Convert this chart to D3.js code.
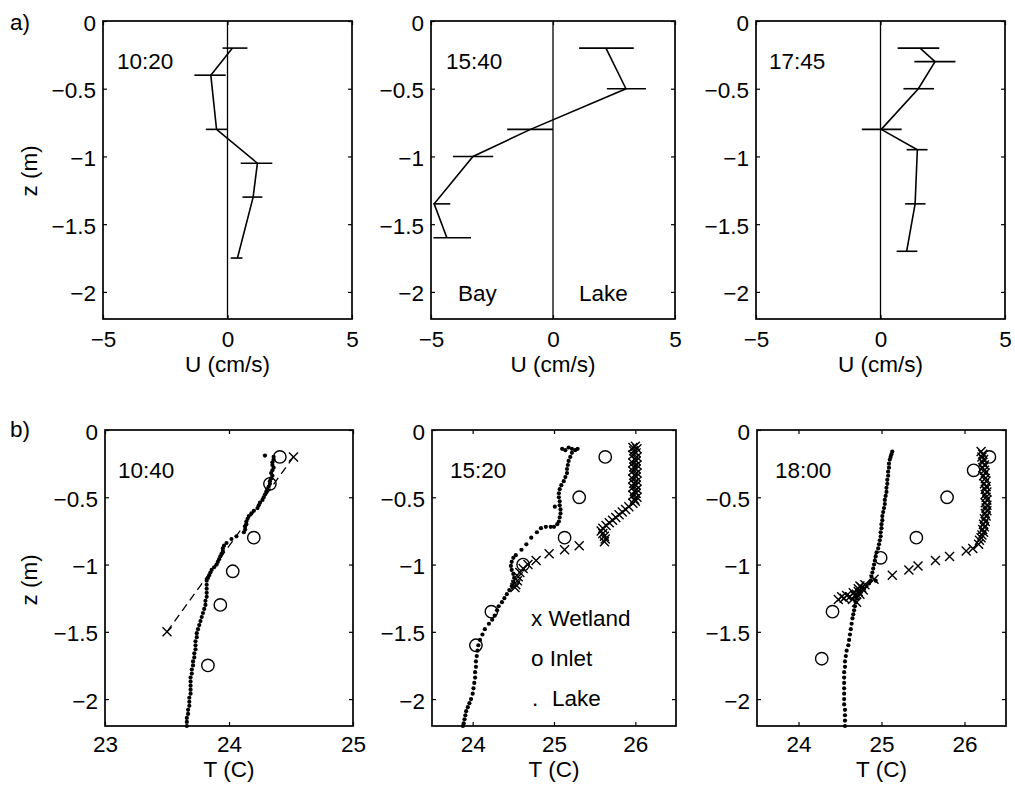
<!DOCTYPE html>
<html lang="en">
<head>
<meta charset="UTF-8">
<title>Velocity and temperature profiles</title>
<style>
  body { margin: 0; background: #fff; }
  svg text { font-family: "Liberation Sans", Arial, Helvetica, sans-serif; font-size: 22.5px; fill: #000; }
</style>
</head>
<body>
<svg id="svg" width="1015" height="788"></svg>
<script src="https://d3js.org/d3.v7.min.js"></script>
<script>
// ---- tick values and labels ----
const uTicks = [-5, 0, 5]
const zTicks = [0, -0.5, -1, -1.5, -2]
const tTicksA = [23, 24, 25]
const tTicksB = [24, 25, 26]
const uTimes = ["10:20", "15:40", "17:45"]
const tTimes = ["10:40", "15:20", "18:00"]

// ---- a) velocity profiles: depth (m), U (cm/s), error bar low / high ----
const z1020 = [-0.2, -0.4, -0.8, -1.05, -1.3, -1.75]
const u1020 = [0.2, -0.67, -0.44, 1.2, 1.03, 0.4]
const lo1020 = [-0.2, -1.33, -0.87, 0.53, 0.6, 0.13]
const hi1020 = [0.8, -0.07, 0.0, 1.8, 1.4, 0.6]

const z1540 = [-0.2, -0.5, -0.8, -1.0, -1.35, -1.6]
const u1540 = [2.17, 2.99, -0.92, -3.28, -4.87, -4.35]
const lo1540 = [1.07, 2.21, -1.88, -4.1, -4.9, -4.9]
const hi1540 = [3.31, 3.81, 0.0, -2.45, -4.21, -3.36]

const z1745 = [-0.2, -0.3, -0.5, -0.8, -0.95, -1.35, -1.7]
const u1745 = [1.59, 2.19, 1.52, 0.03, 1.48, 1.39, 1.05]
const lo1745 = [0.69, 1.36, 0.92, -0.75, 1.05, 0.99, 0.65]
const hi1745 = [2.36, 3.01, 2.15, 0.85, 1.89, 1.81, 1.48]

// ---- b) temperature profiles: [T (C), z (m)] ----
const inlet1040 = [[24.41,-0.2],[24.33,-0.4],[24.2,-0.8],[24.03,-1.05],[23.93,-1.3],[23.83,-1.75]]
const inlet1520 = [[25.63,-0.2],[25.31,-0.5],[25.13,-0.8],[24.62,-1.0],[24.23,-1.35],[24.04,-1.6]]
const inlet1800 = [[26.3,-0.2],[26.11,-0.3],[25.79,-0.5],[25.42,-0.8],[24.99,-0.95],[24.41,-1.35],[24.28,-1.7]]

const wetland1040 = [[24.52,-0.2],[23.5,-1.5]]
const wetland1520 = [
  [26.00,-0.12],[25.97,-0.13],[26.02,-0.14],[25.98,-0.155],[26.01,-0.17],[25.97,-0.185],[26.02,-0.2],
  [25.99,-0.215],[26.01,-0.23],[25.97,-0.245],[26.02,-0.26],[25.98,-0.275],[26.01,-0.29],[25.97,-0.305],
  [26.02,-0.32],[25.99,-0.335],[26.01,-0.35],[25.97,-0.365],[26.02,-0.38],[25.98,-0.395],[26.01,-0.41],
  [25.97,-0.425],[26.02,-0.44],[25.99,-0.455],[26.01,-0.47],[25.97,-0.485],[26.02,-0.5],[25.99,-0.515],
  [26.00,-0.53],[25.97,-0.545],[25.92,-0.57],[25.88,-0.59],[25.84,-0.61],[25.8,-0.63],[25.76,-0.65],
  [25.72,-0.67],[25.68,-0.69],[25.64,-0.71],[25.6,-0.73],[25.58,-0.75],[25.6,-0.77],[25.62,-0.79],
  [25.63,-0.81],[25.62,-0.83],[25.31,-0.86],[25.13,-0.89],[24.94,-0.92],[24.78,-0.97],[24.68,-1.0],
  [24.62,-1.03],[24.58,-1.06],[24.56,-1.09],[24.55,-1.12],[24.53,-1.15],[24.52,-1.17]
]
const wetland1800 = [
  [26.20,-0.16],[26.22,-0.18],[26.21,-0.2],[26.23,-0.22],[26.22,-0.24],[26.24,-0.26],[26.22,-0.28],
  [26.24,-0.3],[26.25,-0.32],[26.23,-0.34],[26.25,-0.36],[26.26,-0.38],[26.24,-0.4],[26.26,-0.42],
  [26.25,-0.44],[26.27,-0.46],[26.25,-0.48],[26.26,-0.5],[26.27,-0.52],[26.25,-0.54],[26.27,-0.56],
  [26.26,-0.58],[26.27,-0.6],[26.25,-0.62],[26.26,-0.64],[26.24,-0.66],[26.25,-0.68],[26.23,-0.7],
  [26.24,-0.72],[26.22,-0.74],[26.23,-0.76],[26.21,-0.78],[26.2,-0.8],[26.18,-0.82],[26.17,-0.85],
  [26.1,-0.88],[26.02,-0.9],[25.82,-0.94],[25.65,-0.97],[25.44,-1.01],[25.33,-1.04],[25.13,-1.08],
  [24.91,-1.11],[24.8,-1.15],[24.76,-1.17],[24.78,-1.19],[24.74,-1.16],[24.72,-1.2],[24.7,-1.22],
  [24.66,-1.21],[24.68,-1.23],[24.62,-1.24],[24.58,-1.23],[24.55,-1.25],[24.52,-1.24],[24.48,-1.26],
  [24.74,-1.22],[24.72,-1.18],[24.65,-1.26],[24.7,-1.28]
]

const lake1040 = [
  [24.29,-0.19],[24.36,-0.2],[24.36,-0.22],[24.35,-0.24],[24.35,-0.26],[24.36,-0.28],[24.35,-0.3],
  [24.34,-0.32],[24.35,-0.34],[24.34,-0.36],[24.33,-0.38],[24.33,-0.4],[24.32,-0.42],[24.31,-0.44],
  [24.3,-0.46],[24.29,-0.48],[24.28,-0.5],[24.27,-0.52],[24.25,-0.54],[24.24,-0.56],[24.23,-0.58],
  [24.2,-0.6],[24.18,-0.62],[24.16,-0.64],[24.15,-0.66],[24.14,-0.68],[24.14,-0.7],[24.13,-0.72],
  [24.13,-0.74],[24.12,-0.76],[24.06,-0.79],[24.02,-0.81],[23.98,-0.84],[23.96,-0.86],[23.95,-0.88],
  [23.95,-0.9],[23.94,-0.92],[23.93,-0.94],[23.92,-0.96],[23.91,-0.98],[23.9,-1.0],[23.88,-1.02],
  [23.86,-1.04],[23.85,-1.06],[23.84,-1.08],[23.83,-1.1],[23.82,-1.12],[23.82,-1.15],[23.82,-1.18],
  [23.82,-1.21],[23.82,-1.24],[23.81,-1.27],[23.81,-1.3],[23.8,-1.33],[23.79,-1.36],[23.78,-1.39],
  [23.77,-1.42],[23.76,-1.45],[23.75,-1.48],[23.74,-1.51],[23.74,-1.54],[23.73,-1.57],[23.73,-1.6],
  [23.73,-1.63],[23.72,-1.66],[23.72,-1.69],[23.71,-1.72],[23.71,-1.75],[23.7,-1.78],[23.7,-1.81],
  [23.69,-1.84],[23.69,-1.87],[23.69,-1.9],[23.69,-1.93],[23.69,-1.96],[23.68,-1.99],[23.68,-2.02],
  [23.68,-2.05],[23.67,-2.08],[23.67,-2.11],[23.66,-2.14],[23.66,-2.17],[23.66,-2.2]
]
const lake1520 = [
  [25.1,-0.14],[25.14,-0.15],[25.18,-0.13],[25.22,-0.14],[25.26,-0.15],[25.29,-0.14],[25.22,-0.17],
  [25.2,-0.2],[25.18,-0.23],[25.17,-0.26],[25.16,-0.29],[25.16,-0.32],[25.14,-0.35],[25.12,-0.38],
  [25.09,-0.41],[25.07,-0.44],[25.06,-0.47],[25.06,-0.5],[25.07,-0.53],[25.07,-0.56],[25.01,-0.57],
  [25.08,-0.59],[25.08,-0.62],[25.07,-0.65],[25.06,-0.68],[25.04,-0.7],[25.0,-0.72],[24.96,-0.72],
  [24.9,-0.72],[24.84,-0.73],[24.79,-0.76],[24.72,-0.8],[24.66,-0.85],[24.6,-0.89],[24.53,-0.93],
  [24.5,-0.95],[24.48,-0.98],[24.47,-1.01],[24.48,-1.04],[24.5,-1.07],[24.51,-1.1],[24.5,-1.13],
  [24.48,-1.16],[24.45,-1.19],[24.42,-1.22],[24.39,-1.25],[24.36,-1.28],[24.32,-1.31],[24.3,-1.34],
  [24.27,-1.38],[24.24,-1.41],[24.2,-1.44],[24.15,-1.48],[24.12,-1.52],[24.09,-1.56],[24.07,-1.6],
  [24.06,-1.64],[24.05,-1.68],[24.04,-1.72],[24.04,-1.76],[24.03,-1.8],[24.03,-1.84],[24.02,-1.88],
  [24.01,-1.92],[24.0,-1.96],[23.98,-2.0],[23.96,-2.03],[23.94,-2.06],[23.92,-2.09],[23.91,-2.12],
  [23.9,-2.15],[23.89,-2.18],[23.88,-2.2]
]
const lake1800 = [
  [25.13,-0.16],[25.12,-0.18],[25.11,-0.2],[25.1,-0.22],[25.09,-0.25],[25.09,-0.28],[25.08,-0.31],
  [25.08,-0.34],[25.07,-0.37],[25.07,-0.4],[25.06,-0.43],[25.06,-0.46],[25.05,-0.49],[25.04,-0.52],
  [25.04,-0.55],[25.03,-0.58],[25.02,-0.61],[25.01,-0.64],[25.01,-0.67],[25.0,-0.7],[25.0,-0.73],
  [24.99,-0.76],[24.99,-0.79],[24.98,-0.82],[24.97,-0.85],[24.96,-0.88],[24.94,-0.91],[24.93,-0.94],
  [24.92,-0.97],[24.91,-1.0],[24.9,-1.03],[24.89,-1.06],[24.88,-1.09],[24.93,-1.12],[24.87,-1.12],
  [24.85,-1.14],[24.82,-1.16],[24.79,-1.18],[24.75,-1.2],[24.72,-1.22],[24.7,-1.25],[24.69,-1.28],
  [24.68,-1.31],[24.67,-1.34],[24.66,-1.37],[24.65,-1.4],[24.64,-1.44],[24.63,-1.48],[24.62,-1.52],
  [24.61,-1.56],[24.6,-1.6],[24.58,-1.64],[24.57,-1.68],[24.56,-1.72],[24.56,-1.76],[24.55,-1.8],
  [24.55,-1.84],[24.55,-1.88],[24.55,-1.92],[24.55,-1.96],[24.55,-2.0],[24.55,-2.04],[24.56,-2.08],
  [24.56,-2.12],[24.56,-2.16],[24.56,-2.2]
]

// ---- layout ----
const topY = [21, 319]
const botY = [430, 726]
const topX = [[103, 352], [431, 675], [756, 1005]]
const botX = [[105, 353], [432, 676], [757, 1006]]
const topLabelX = [117, 446, 769]
const botLabelX = [118, 450, 775]

const svg = d3.select("#svg")
const fmt = d => (d < 0 ? "\u2212" : "") + Math.abs(d)

function drawBox(g, x, y, xTicks, xTitle, tickPad, titleGap) {
    const w = x.range()[1], h = y.range()[1]
    g.append("g").call(d3.axisLeft(y).tickValues(zTicks).tickSize(-4).tickPadding(7).tickFormat(fmt))
        .selectAll("text").attr("dy", "0.4em")
    g.append("g").attr("transform", `translate(${w},0)`)
        .call(d3.axisRight(y).tickValues(zTicks).tickSize(-4).tickFormat(""))
    g.append("g").call(d3.axisTop(x).tickValues(xTicks).tickSize(-4).tickFormat(""))
    g.append("g").attr("transform", `translate(0,${h})`)
        .call(d3.axisBottom(x).tickValues(xTicks).tickSize(-4).tickPadding(tickPad).tickFormat(fmt))
    g.selectAll(".domain").remove()
    g.selectAll(".tick line").attr("stroke-width", 1.2)
    g.append("rect").attr("width", w).attr("height", h)
        .attr("fill", "none").attr("stroke", "#000").attr("stroke-width", 1.7)
    g.append("text").attr("x", w / 2).attr("y", h + titleGap)
        .attr("text-anchor", "middle").text(xTitle)
}

// a) velocity panels
const uSets = [
    [z1020, u1020, lo1020, hi1020],
    [z1540, u1540, lo1540, hi1540],
    [z1745, u1745, lo1745, hi1745]
]
uSets.forEach(([zs, us, los, his], i) => {
    const g = svg.append("g").attr("transform", `translate(${topX[i][0]},${topY[0]})`)
    const x = d3.scaleLinear().domain([-5, 5]).range([0, topX[i][1] - topX[i][0]])
    const y = d3.scaleLinear().domain([0, -2.2]).range([0, topY[1] - topY[0]])
    drawBox(g, x, y, uTicks, "U (cm/s)", 12, 53)

    g.append("line").attr("x1", x(0)).attr("x2", x(0)).attr("y1", 0).attr("y2", y(-2.2))
        .attr("stroke", "#000").attr("stroke-width", 1.3)

    const pts = zs.map((z, k) => ({ z, u: us[k], lo: los[k], hi: his[k] }))
    g.append("path").datum(pts)
        .attr("d", d3.line().x(d => x(d.u)).y(d => y(d.z)))
        .attr("fill", "none").attr("stroke", "#000").attr("stroke-width", 1.6)
    g.selectAll(".err").data(pts).enter().append("line")
        .attr("x1", d => x(d.lo)).attr("x2", d => x(d.hi))
        .attr("y1", d => y(d.z)).attr("y2", d => y(d.z))
        .attr("stroke", "#000").attr("stroke-width", 1.6)

    g.append("text").attr("x", topLabelX[i] - topX[i][0]).attr("y", 48).text(uTimes[i])
    if (i === 1) {
        g.append("text").attr("x", 458 - topX[1][0]).attr("y", 280).text("Bay")
        g.append("text").attr("x", 579 - topX[1][0]).attr("y", 280).text("Lake")
    }
})

// b) temperature panels
const tSets = [
    [lake1040, inlet1040, wetland1040, [23, 25], tTicksA],
    [lake1520, inlet1520, wetland1520, [23.5, 26.5], tTicksB],
    [lake1800, inlet1800, wetland1800, [23.5, 26.5], tTicksB]
]
const xMark = (cx, cy, s) => `M${cx - s},${cy - s}L${cx + s},${cy + s}M${cx - s},${cy + s}L${cx + s},${cy - s}`

tSets.forEach(([lake, inlet, wet, dom, ticks], i) => {
    const g = svg.append("g").attr("transform", `translate(${botX[i][0]},${botY[0]})`)
    const x = d3.scaleLinear().domain(dom).range([0, botX[i][1] - botX[i][0]])
    const y = d3.scaleLinear().domain([0, -2.2]).range([0, botY[1] - botY[0]])
    drawBox(g, x, y, ticks, "T (C)", 10.5, 51)

    if (i === 0) {
        g.append("path").datum(wet)
            .attr("d", d3.line().x(d => x(d[0])).y(d => y(d[1])))
            .attr("fill", "none").attr("stroke", "#000").attr("stroke-width", 1.3)
            .attr("stroke-dasharray", "8,5")
    }
    g.selectAll(".lake").data(lake).enter().append("circle")
        .attr("cx", d => x(d[0])).attr("cy", d => y(d[1])).attr("r", 2.1).attr("fill", "#000")
    g.selectAll(".wet").data(wet).enter().append("path")
        .attr("d", d => xMark(x(d[0]), y(d[1]), 4.5))
        .attr("stroke", "#000").attr("stroke-width", 1.4).attr("fill", "none")
    g.selectAll(".inlet").data(inlet).enter().append("circle")
        .attr("cx", d => x(d[0])).attr("cy", d => y(d[1])).attr("r", 6.2)
        .attr("fill", "none").attr("stroke", "#000").attr("stroke-width", 1.4)

    g.append("text").attr("x", botLabelX[i] - botX[i][0]).attr("y", 48).text(tTimes[i])
    if (i === 1) {
        const lx = 531 - botX[1][0]
        g.append("text").attr("x", lx).attr("y", 626 - botY[0]).text("x Wetland")
        g.append("text").attr("x", lx).attr("y", 666 - botY[0]).text("o Inlet")
        g.append("text").attr("x", lx + 1).attr("y", 706 - botY[0]).text(".")
        g.append("text").attr("x", 552 - botX[1][0]).attr("y", 706 - botY[0]).text("Lake")
    }
})

// panel tags and y titles
svg.append("text").attr("x", 10).attr("y", 30).text("a)")
svg.append("text").attr("x", 10).attr("y", 437).text("b)")
svg.append("text").attr("transform", "translate(37,171) rotate(-90)").attr("text-anchor", "middle").text("z (m)")
svg.append("text").attr("transform", "translate(37,580) rotate(-90)").attr("text-anchor", "middle").text("z (m)")
</script>
</body>
</html>
